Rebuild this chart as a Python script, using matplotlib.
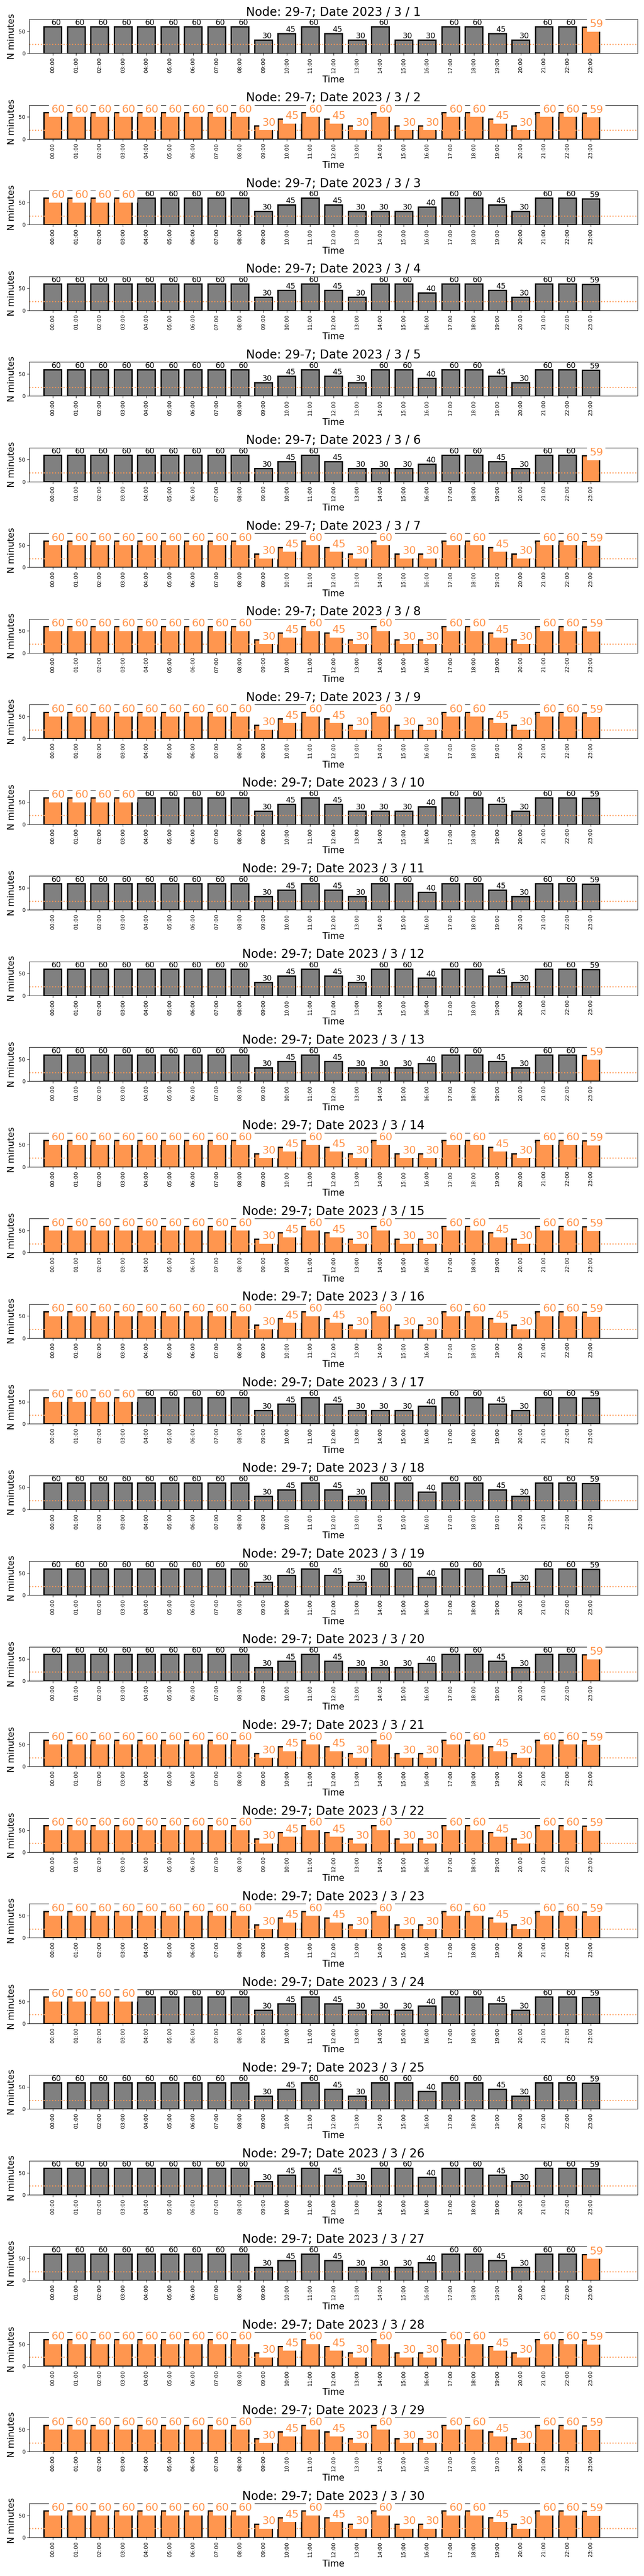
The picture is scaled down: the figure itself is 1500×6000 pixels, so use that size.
import matplotlib
matplotlib.use("Agg")
import matplotlib.pyplot as plt

# Data
node = "29-7"
days = list(range(1, 31))
hours = ["00:00", "01:00", "02:00", "03:00", "04:00", "05:00", "06:00", "07:00",
         "08:00", "09:00", "10:00", "11:00", "12:00", "13:00", "14:00", "15:00",
         "16:00", "17:00", "18:00", "19:00", "20:00", "21:00", "22:00", "23:00"]

minutes_a = [60, 60, 60, 60, 60, 60, 60, 60, 60, 30, 45, 60,
             45, 30, 60, 30, 30, 60, 60, 45, 30, 60, 60, 59]
minutes_b = [60, 60, 60, 60, 60, 60, 60, 60, 60, 30, 45, 60,
             45, 30, 30, 30, 40, 60, 60, 45, 30, 60, 60, 59]
minutes_c = [60, 60, 60, 60, 60, 60, 60, 60, 60, 30, 45, 60,
             45, 30, 60, 60, 40, 60, 60, 45, 30, 60, 60, 59]

# profile of each day (1..30)
day_profile = ["a", "a", "b", "c", "c", "b", "a", "a", "a", "b",
               "c", "c", "b", "a", "a", "a", "b", "c", "c", "b",
               "a", "a", "a", "b", "c", "c", "b", "a", "a", "a"]
profiles = {"a": minutes_a, "b": minutes_b, "c": minutes_c}

# flagged hours of each day
flag_last = [23]
flag_all = list(range(24))
flag_first = [0, 1, 2, 3]
day_flags = [flag_last, flag_all, flag_first, [], [], flag_last, flag_all,
             flag_all, flag_all, flag_first, [], [], flag_last, flag_all,
             flag_all, flag_all, flag_first, [], [], flag_last, flag_all,
             flag_all, flag_all, flag_first, [], [], flag_last, flag_all,
             flag_all, flag_all]

threshold = 20

orange = "#ff964f"
gray = "#808080"

# Plotting
fig, axes = plt.subplots(len(days), 1, figsize=(15, 60), dpi=100)
plt.subplots_adjust(left=0.0456, right=0.99, top=0.9925, bottom=0.015,
                    hspace=1.525)

for ax, day, prof, flags in zip(axes, days, day_profile, day_flags):
    vals = profiles[prof]
    x = list(range(len(vals)))
    colors = [orange if i in flags else gray for i in x]
    ax.bar(x, vals, width=0.75, color=colors, edgecolor="black", linewidth=2.2)
    ax.axhline(threshold, color=orange, linestyle=":", linewidth=1.8)
    for i, v in zip(x, vals):
        if i in flags:
            ax.text(i - 0.06, v, str(v), ha="left", va="baseline", fontsize=18,
                    color=orange,
                    bbox=dict(facecolor="white", edgecolor="none"))
        else:
            ax.text(i - 0.05, v, str(v), ha="left", va="bottom", fontsize=13)
    ax.set_xlim(-1, 25)
    ax.set_ylim(0, 77)
    ax.set_yticks([0, 50])
    ax.set_xticks(x)
    ax.set_xticklabels(hours, rotation=90, fontsize=9)
    ax.tick_params(axis="y", labelsize=9)
    ax.set_xlabel("Time", fontsize=15)
    ax.set_ylabel("N minutes", fontsize=15)
    ax.set_title("Node: %s; Date 2023 / 3 / %d" % (node, day), fontsize=20)

plt.savefig("out.png", dpi=100)
